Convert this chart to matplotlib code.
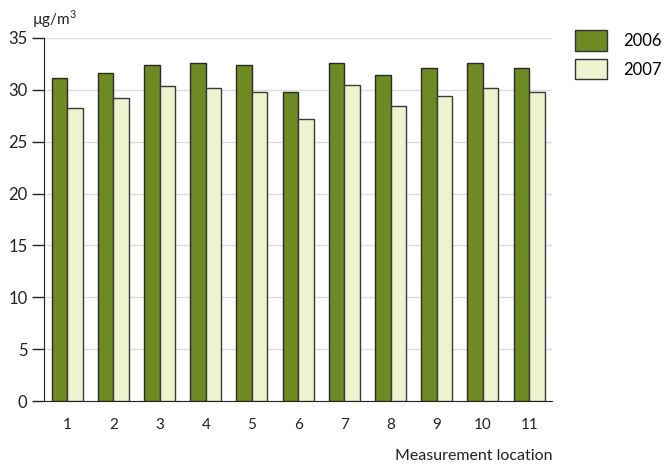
import matplotlib.pyplot as plt
import numpy as np
from matplotlib.patches import Patch

# Данные
locations = ['1', '2', '3', '4', '5', '6', '7', '8', '9', '10', '11']
values_2006 = [31.1, 31.6, 32.4, 32.6, 32.4, 29.8, 32.6, 31.4, 32.1, 32.6, 32.1]
values_2007 = [28.2, 29.2, 30.4, 30.2, 29.8, 27.2, 30.5, 28.4, 29.4, 30.2, 29.8]
years = ['2006', '2007']

c_dark = '#6e8a22'
c_light = '#edf3cf'

plt.rcParams['font.family'] = ['Lato', 'DejaVu Sans']
plt.rcParams['mathtext.fontset'] = 'custom'
plt.rcParams['mathtext.rm'] = 'Lato'

fig = plt.figure(figsize=(6.67, 4.68), dpi=100)
ax = fig.add_axes([0.066, 0.143, 0.762, 0.776])

x = np.arange(len(locations))
w = 0.335
ax.bar(x - w / 2, values_2006, w, color=c_dark, edgecolor='#2a2a2a', linewidth=1, zorder=3)
ax.bar(x + w / 2, values_2007, w, color=c_light, edgecolor='#3a3a3a', linewidth=1, zorder=3)

ax.set_xlim(-0.5, len(locations) - 0.5)
ax.set_ylim(0, 35)
ax.set_yticks(range(0, 36, 5))
ax.set_xticks(x)
ax.set_xticklabels(locations)
ax.tick_params(axis='x', length=0, pad=12, labelsize=11, colors='#222222')
ax.tick_params(axis='y', direction='out', length=9, width=1, labelsize=12, pad=3, colors='#222222')
ax.yaxis.grid(True, color='#dddddd', linewidth=1, zorder=0)
for s in ['top', 'right']:
    ax.spines[s].set_visible(False)
ax.spines['left'].set_color('#222222')
ax.spines['bottom'].set_color('#222222')

fig.text(0.048, 0.958, 'µg/m$^\\mathrm{3}$', fontsize=11, color='#222222', va='center')
fig.text(0.828, 0.026, 'Measurement location', fontsize=11.5, color='#222222', ha='right', va='center')

handles = [Patch(facecolor=c_dark, edgecolor='#333333'), Patch(facecolor=c_light, edgecolor='#333333')]
fig.legend(handles, years, loc='upper left', bbox_to_anchor=(0.862, 0.935), frameon=False,
           fontsize=12, handlelength=1.9, handleheight=1.5, handletextpad=1.0, labelspacing=0.5,
           borderaxespad=0, borderpad=0)

fig.savefig('out.png', dpi=100)
